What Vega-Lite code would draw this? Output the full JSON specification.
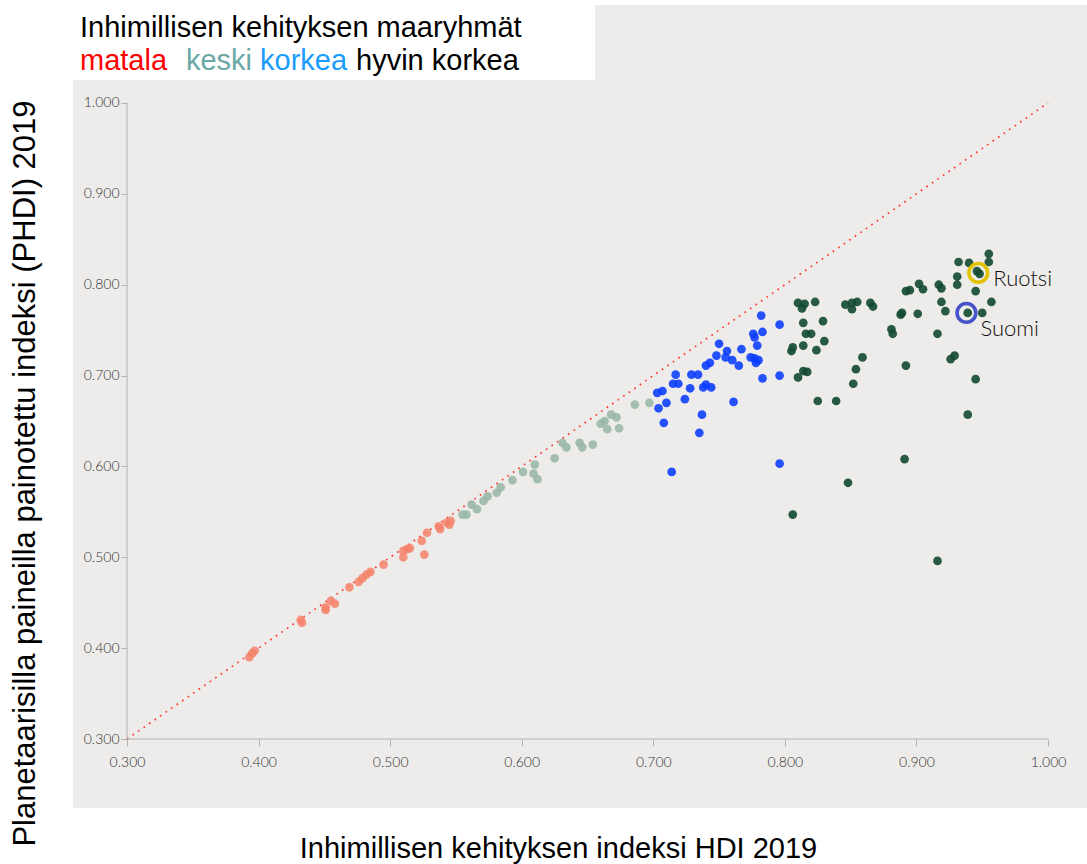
{
  "$schema": "https://vega.github.io/schema/vega-lite/v6.json",
  "width": 1014,
  "height": 803,
  "autosize": {"type": "none"},
  "padding": {"left": 73, "top": 5, "right": 0, "bottom": 56},
  "background": "white",
  "config": {"view": {"fill": "#eeecea", "stroke": null}},
  "datasets": {
    "maat": [
      {"hdi": 0.393, "phdi": 0.390, "ryhma": "matala"},
      {"hdi": 0.395, "phdi": 0.394, "ryhma": "matala"},
      {"hdi": 0.397, "phdi": 0.397, "ryhma": "matala"},
      {"hdi": 0.432, "phdi": 0.431, "ryhma": "matala"},
      {"hdi": 0.433, "phdi": 0.428, "ryhma": "matala"},
      {"hdi": 0.451, "phdi": 0.442, "ryhma": "matala"},
      {"hdi": 0.451, "phdi": 0.445, "ryhma": "matala"},
      {"hdi": 0.455, "phdi": 0.452, "ryhma": "matala"},
      {"hdi": 0.458, "phdi": 0.449, "ryhma": "matala"},
      {"hdi": 0.469, "phdi": 0.467, "ryhma": "matala"},
      {"hdi": 0.476, "phdi": 0.473, "ryhma": "matala"},
      {"hdi": 0.479, "phdi": 0.477, "ryhma": "matala"},
      {"hdi": 0.482, "phdi": 0.481, "ryhma": "matala"},
      {"hdi": 0.485, "phdi": 0.484, "ryhma": "matala"},
      {"hdi": 0.495, "phdi": 0.492, "ryhma": "matala"},
      {"hdi": 0.510, "phdi": 0.500, "ryhma": "matala"},
      {"hdi": 0.510, "phdi": 0.507, "ryhma": "matala"},
      {"hdi": 0.513, "phdi": 0.509, "ryhma": "matala"},
      {"hdi": 0.515, "phdi": 0.510, "ryhma": "matala"},
      {"hdi": 0.526, "phdi": 0.503, "ryhma": "matala"},
      {"hdi": 0.524, "phdi": 0.518, "ryhma": "matala"},
      {"hdi": 0.528, "phdi": 0.527, "ryhma": "matala"},
      {"hdi": 0.537, "phdi": 0.534, "ryhma": "matala"},
      {"hdi": 0.538, "phdi": 0.531, "ryhma": "matala"},
      {"hdi": 0.543, "phdi": 0.538, "ryhma": "matala"},
      {"hdi": 0.545, "phdi": 0.536, "ryhma": "matala"},
      {"hdi": 0.546, "phdi": 0.540, "ryhma": "matala"},
      {"hdi": 0.555, "phdi": 0.547, "ryhma": "keski"},
      {"hdi": 0.558, "phdi": 0.547, "ryhma": "keski"},
      {"hdi": 0.562, "phdi": 0.558, "ryhma": "keski"},
      {"hdi": 0.566, "phdi": 0.553, "ryhma": "keski"},
      {"hdi": 0.571, "phdi": 0.562, "ryhma": "keski"},
      {"hdi": 0.574, "phdi": 0.567, "ryhma": "keski"},
      {"hdi": 0.581, "phdi": 0.571, "ryhma": "keski"},
      {"hdi": 0.584, "phdi": 0.577, "ryhma": "keski"},
      {"hdi": 0.593, "phdi": 0.585, "ryhma": "keski"},
      {"hdi": 0.601, "phdi": 0.594, "ryhma": "keski"},
      {"hdi": 0.609, "phdi": 0.592, "ryhma": "keski"},
      {"hdi": 0.610, "phdi": 0.602, "ryhma": "keski"},
      {"hdi": 0.612, "phdi": 0.586, "ryhma": "keski"},
      {"hdi": 0.625, "phdi": 0.609, "ryhma": "keski"},
      {"hdi": 0.631, "phdi": 0.626, "ryhma": "keski"},
      {"hdi": 0.634, "phdi": 0.621, "ryhma": "keski"},
      {"hdi": 0.644, "phdi": 0.626, "ryhma": "keski"},
      {"hdi": 0.646, "phdi": 0.621, "ryhma": "keski"},
      {"hdi": 0.654, "phdi": 0.624, "ryhma": "keski"},
      {"hdi": 0.660, "phdi": 0.647, "ryhma": "keski"},
      {"hdi": 0.663, "phdi": 0.650, "ryhma": "keski"},
      {"hdi": 0.665, "phdi": 0.641, "ryhma": "keski"},
      {"hdi": 0.668, "phdi": 0.657, "ryhma": "keski"},
      {"hdi": 0.672, "phdi": 0.654, "ryhma": "keski"},
      {"hdi": 0.674, "phdi": 0.642, "ryhma": "keski"},
      {"hdi": 0.686, "phdi": 0.668, "ryhma": "keski"},
      {"hdi": 0.697, "phdi": 0.670, "ryhma": "keski"},
      {"hdi": 0.703, "phdi": 0.681, "ryhma": "korkea"},
      {"hdi": 0.707, "phdi": 0.683, "ryhma": "korkea"},
      {"hdi": 0.704, "phdi": 0.664, "ryhma": "korkea"},
      {"hdi": 0.710, "phdi": 0.670, "ryhma": "korkea"},
      {"hdi": 0.708, "phdi": 0.648, "ryhma": "korkea"},
      {"hdi": 0.714, "phdi": 0.594, "ryhma": "korkea"},
      {"hdi": 0.717, "phdi": 0.701, "ryhma": "korkea"},
      {"hdi": 0.715, "phdi": 0.691, "ryhma": "korkea"},
      {"hdi": 0.719, "phdi": 0.691, "ryhma": "korkea"},
      {"hdi": 0.724, "phdi": 0.674, "ryhma": "korkea"},
      {"hdi": 0.728, "phdi": 0.686, "ryhma": "korkea"},
      {"hdi": 0.729, "phdi": 0.701, "ryhma": "korkea"},
      {"hdi": 0.734, "phdi": 0.701, "ryhma": "korkea"},
      {"hdi": 0.737, "phdi": 0.657, "ryhma": "korkea"},
      {"hdi": 0.735, "phdi": 0.637, "ryhma": "korkea"},
      {"hdi": 0.738, "phdi": 0.687, "ryhma": "korkea"},
      {"hdi": 0.740, "phdi": 0.690, "ryhma": "korkea"},
      {"hdi": 0.744, "phdi": 0.687, "ryhma": "korkea"},
      {"hdi": 0.740, "phdi": 0.711, "ryhma": "korkea"},
      {"hdi": 0.743, "phdi": 0.714, "ryhma": "korkea"},
      {"hdi": 0.748, "phdi": 0.722, "ryhma": "korkea"},
      {"hdi": 0.750, "phdi": 0.735, "ryhma": "korkea"},
      {"hdi": 0.756, "phdi": 0.727, "ryhma": "korkea"},
      {"hdi": 0.755, "phdi": 0.720, "ryhma": "korkea"},
      {"hdi": 0.760, "phdi": 0.717, "ryhma": "korkea"},
      {"hdi": 0.761, "phdi": 0.671, "ryhma": "korkea"},
      {"hdi": 0.765, "phdi": 0.711, "ryhma": "korkea"},
      {"hdi": 0.767, "phdi": 0.729, "ryhma": "korkea"},
      {"hdi": 0.776, "phdi": 0.746, "ryhma": "korkea"},
      {"hdi": 0.777, "phdi": 0.742, "ryhma": "korkea"},
      {"hdi": 0.774, "phdi": 0.720, "ryhma": "korkea"},
      {"hdi": 0.777, "phdi": 0.719, "ryhma": "korkea"},
      {"hdi": 0.780, "phdi": 0.717, "ryhma": "korkea"},
      {"hdi": 0.778, "phdi": 0.714, "ryhma": "korkea"},
      {"hdi": 0.779, "phdi": 0.733, "ryhma": "korkea"},
      {"hdi": 0.783, "phdi": 0.748, "ryhma": "korkea"},
      {"hdi": 0.783, "phdi": 0.697, "ryhma": "korkea"},
      {"hdi": 0.782, "phdi": 0.766, "ryhma": "korkea"},
      {"hdi": 0.796, "phdi": 0.756, "ryhma": "korkea"},
      {"hdi": 0.796, "phdi": 0.700, "ryhma": "korkea"},
      {"hdi": 0.796, "phdi": 0.603, "ryhma": "korkea"},
      {"hdi": 0.810, "phdi": 0.780, "ryhma": "hyvin korkea"},
      {"hdi": 0.813, "phdi": 0.774, "ryhma": "hyvin korkea"},
      {"hdi": 0.815, "phdi": 0.779, "ryhma": "hyvin korkea"},
      {"hdi": 0.823, "phdi": 0.781, "ryhma": "hyvin korkea"},
      {"hdi": 0.814, "phdi": 0.758, "ryhma": "hyvin korkea"},
      {"hdi": 0.829, "phdi": 0.760, "ryhma": "hyvin korkea"},
      {"hdi": 0.816, "phdi": 0.746, "ryhma": "hyvin korkea"},
      {"hdi": 0.820, "phdi": 0.746, "ryhma": "hyvin korkea"},
      {"hdi": 0.830, "phdi": 0.738, "ryhma": "hyvin korkea"},
      {"hdi": 0.814, "phdi": 0.733, "ryhma": "hyvin korkea"},
      {"hdi": 0.806, "phdi": 0.731, "ryhma": "hyvin korkea"},
      {"hdi": 0.805, "phdi": 0.727, "ryhma": "hyvin korkea"},
      {"hdi": 0.824, "phdi": 0.728, "ryhma": "hyvin korkea"},
      {"hdi": 0.859, "phdi": 0.720, "ryhma": "hyvin korkea"},
      {"hdi": 0.854, "phdi": 0.707, "ryhma": "hyvin korkea"},
      {"hdi": 0.814, "phdi": 0.705, "ryhma": "hyvin korkea"},
      {"hdi": 0.810, "phdi": 0.698, "ryhma": "hyvin korkea"},
      {"hdi": 0.817, "phdi": 0.704, "ryhma": "hyvin korkea"},
      {"hdi": 0.852, "phdi": 0.691, "ryhma": "hyvin korkea"},
      {"hdi": 0.825, "phdi": 0.672, "ryhma": "hyvin korkea"},
      {"hdi": 0.839, "phdi": 0.672, "ryhma": "hyvin korkea"},
      {"hdi": 0.846, "phdi": 0.778, "ryhma": "hyvin korkea"},
      {"hdi": 0.851, "phdi": 0.780, "ryhma": "hyvin korkea"},
      {"hdi": 0.855, "phdi": 0.781, "ryhma": "hyvin korkea"},
      {"hdi": 0.851, "phdi": 0.773, "ryhma": "hyvin korkea"},
      {"hdi": 0.865, "phdi": 0.780, "ryhma": "hyvin korkea"},
      {"hdi": 0.867, "phdi": 0.776, "ryhma": "hyvin korkea"},
      {"hdi": 0.888, "phdi": 0.767, "ryhma": "hyvin korkea"},
      {"hdi": 0.889, "phdi": 0.769, "ryhma": "hyvin korkea"},
      {"hdi": 0.901, "phdi": 0.768, "ryhma": "hyvin korkea"},
      {"hdi": 0.881, "phdi": 0.751, "ryhma": "hyvin korkea"},
      {"hdi": 0.882, "phdi": 0.746, "ryhma": "hyvin korkea"},
      {"hdi": 0.892, "phdi": 0.793, "ryhma": "hyvin korkea"},
      {"hdi": 0.895, "phdi": 0.794, "ryhma": "hyvin korkea"},
      {"hdi": 0.902, "phdi": 0.801, "ryhma": "hyvin korkea"},
      {"hdi": 0.905, "phdi": 0.795, "ryhma": "hyvin korkea"},
      {"hdi": 0.917, "phdi": 0.800, "ryhma": "hyvin korkea"},
      {"hdi": 0.919, "phdi": 0.796, "ryhma": "hyvin korkea"},
      {"hdi": 0.919, "phdi": 0.781, "ryhma": "hyvin korkea"},
      {"hdi": 0.922, "phdi": 0.771, "ryhma": "hyvin korkea"},
      {"hdi": 0.916, "phdi": 0.746, "ryhma": "hyvin korkea"},
      {"hdi": 0.892, "phdi": 0.711, "ryhma": "hyvin korkea"},
      {"hdi": 0.926, "phdi": 0.718, "ryhma": "hyvin korkea"},
      {"hdi": 0.929, "phdi": 0.722, "ryhma": "hyvin korkea"},
      {"hdi": 0.932, "phdi": 0.825, "ryhma": "hyvin korkea"},
      {"hdi": 0.931, "phdi": 0.809, "ryhma": "hyvin korkea"},
      {"hdi": 0.931, "phdi": 0.800, "ryhma": "hyvin korkea"},
      {"hdi": 0.940, "phdi": 0.824, "ryhma": "hyvin korkea"},
      {"hdi": 0.945, "phdi": 0.793, "ryhma": "hyvin korkea"},
      {"hdi": 0.939, "phdi": 0.769, "ryhma": "hyvin korkea"},
      {"hdi": 0.946, "phdi": 0.815, "ryhma": "hyvin korkea"},
      {"hdi": 0.948, "phdi": 0.812, "ryhma": "hyvin korkea"},
      {"hdi": 0.955, "phdi": 0.834, "ryhma": "hyvin korkea"},
      {"hdi": 0.955, "phdi": 0.825, "ryhma": "hyvin korkea"},
      {"hdi": 0.957, "phdi": 0.781, "ryhma": "hyvin korkea"},
      {"hdi": 0.950, "phdi": 0.769, "ryhma": "hyvin korkea"},
      {"hdi": 0.945, "phdi": 0.696, "ryhma": "hyvin korkea"},
      {"hdi": 0.939, "phdi": 0.657, "ryhma": "hyvin korkea"},
      {"hdi": 0.891, "phdi": 0.608, "ryhma": "hyvin korkea"},
      {"hdi": 0.848, "phdi": 0.582, "ryhma": "hyvin korkea"},
      {"hdi": 0.806, "phdi": 0.547, "ryhma": "hyvin korkea"},
      {"hdi": 0.916, "phdi": 0.496, "ryhma": "hyvin korkea"}
    ],
    "korostus": [
      {"hdi": 0.947, "phdi": 0.813, "maa": "Ruotsi"},
      {"hdi": 0.938, "phdi": 0.769, "maa": "Suomi"}
    ],
    "tasa": [
      {"hdi": 0.3, "phdi": 0.3},
      {"hdi": 1.0, "phdi": 1.0}
    ]
  },
  "layer": [
    {
      "data": {"values": [{"osa": "otsikkoalue"}]},
      "mark": {"type": "rect", "fill": "white"},
      "encoding": {
        "x": {"datum": 0.25896},
        "x2": {"datum": 0.6557},
        "y": {"datum": 1.10786},
        "y2": {"datum": 1.02531}
      }
    },
    {
      "data": {"name": "tasa"},
      "mark": {"type": "line", "color": "#ff3a2f", "strokeWidth": 1.7, "strokeDash": [1.7, 5]},
      "encoding": {
        "x": {"field": "hdi", "type": "quantitative"},
        "y": {"field": "phdi", "type": "quantitative"}
      }
    },
    {
      "data": {"values": [{"akseli": "y"}]},
      "mark": {"type": "rule", "color": "#b3b3b3", "strokeWidth": 1},
      "encoding": {
        "x": {"datum": 0.3},
        "y": {"datum": 0.3},
        "y2": {"datum": 1.0}
      }
    },
    {
      "data": {"values": [{"akseli": "x"}]},
      "mark": {"type": "rule", "color": "#b3b3b3", "strokeWidth": 1},
      "encoding": {
        "y": {"datum": 0.3},
        "x": {"datum": 0.3},
        "x2": {"datum": 1.0}
      }
    },
    {
      "data": {"name": "maat"},
      "mark": {"type": "circle", "size": 76},
      "encoding": {
        "x": {
          "field": "hdi", "type": "quantitative",
          "scale": {"domain": [0.25896, 1.02964], "nice": false, "zero": false},
          "axis": {
            "orient": "bottom", "offset": -69, "domain": false, "grid": false,
            "values": [0.3, 0.4, 0.5, 0.6, 0.7, 0.8, 0.9, 1.0], "format": ".3f",
            "tickSize": 7, "tickColor": "#b3b3b3", "labelPadding": 9,
            "labelFont": "Lato", "labelFontSize": 14, "labelFontWeight": 300, "labelColor": "#333333",
            "title": "Inhimillisen kehityksen indeksi HDI 2019",
            "titleFont": "Liberation Sans", "titleFontSize": 29, "titleFontWeight": "normal",
            "titleColor": "#000000", "titleX": 485, "titleY": 109,
            "titleAlign": "center", "titleBaseline": "middle"
          }
        },
        "y": {
          "field": "phdi", "type": "quantitative",
          "scale": {"domain": [0.22406, 1.10786], "nice": false, "zero": false},
          "axis": {
            "orient": "left", "offset": -54, "domain": false, "grid": false,
            "values": [0.3, 0.4, 0.5, 0.6, 0.7, 0.8, 0.9, 1.0], "format": ".3f",
            "tickSize": 6, "tickColor": "#b3b3b3", "labelPadding": 2,
            "labelFont": "Lato", "labelFontSize": 14, "labelFontWeight": 300, "labelColor": "#333333",
            "title": "Planetaarisilla paineilla painotettu indeksi (PHDI) 2019",
            "titleFont": "Liberation Sans", "titleFontSize": 31, "titleFontWeight": "normal",
            "titleColor": "#000000", "titleX": -102, "titleY": 468,
            "titleAngle": -90, "titleAlign": "center", "titleBaseline": "middle"
          }
        },
        "color": {
          "field": "ryhma", "type": "nominal", "legend": null,
          "scale": {
            "domain": ["matala", "keski", "korkea", "hyvin korkea"],
            "range": ["#f5826b", "#97b6a5", "#0a3cff", "#124a31"]
          }
        },
        "opacity": {
          "field": "ryhma", "type": "nominal", "legend": null,
          "scale": {
            "domain": ["matala", "keski", "korkea", "hyvin korkea"],
            "range": [0.85, 0.9, 1, 1]
          }
        }
      }
    },
    {
      "data": {"name": "korostus"},
      "mark": {"type": "point", "shape": "circle", "filled": false, "size": 350, "strokeWidth": 3.6, "opacity": 1},
      "encoding": {
        "x": {"field": "hdi", "type": "quantitative"},
        "y": {"field": "phdi", "type": "quantitative"},
        "stroke": {
          "field": "maa", "type": "nominal", "legend": null,
          "scale": {"domain": ["Ruotsi", "Suomi"], "range": ["#e2c300", "#4654c8"]}
        }
      }
    },
    {
      "data": {"name": "korostus"},
      "transform": [{"filter": "datum.maa === 'Ruotsi'"}],
      "mark": {"type": "text", "align": "left", "baseline": "middle", "dx": 15, "dy": 6, "font": "Lato", "fontSize": 22, "fontWeight": 300, "color": "#111111"},
      "encoding": {
        "x": {"field": "hdi", "type": "quantitative"},
        "y": {"field": "phdi", "type": "quantitative"},
        "text": {"field": "maa"}
      }
    },
    {
      "data": {"name": "korostus"},
      "transform": [{"filter": "datum.maa === 'Suomi'"}],
      "mark": {"type": "text", "align": "left", "baseline": "middle", "dx": 14, "dy": 16, "font": "Lato", "fontSize": 22, "fontWeight": 300, "color": "#111111"},
      "encoding": {
        "x": {"field": "hdi", "type": "quantitative"},
        "y": {"field": "phdi", "type": "quantitative"},
        "text": {"field": "maa"}
      }
    },
    {
      "data": {"values": [{"teksti": "Inhimillisen kehityksen maaryhmät"}]},
      "mark": {"type": "text", "align": "left", "baseline": "alphabetic", "font": "Liberation Sans", "fontSize": 29, "color": "#000000"},
      "encoding": {"x": {"datum": 0.26428}, "y": {"datum": 1.07262}, "text": {"field": "teksti"}}
    },
    {
      "data": {"values": [{"teksti": "matala"}]},
      "mark": {"type": "text", "align": "left", "baseline": "alphabetic", "font": "Liberation Sans", "fontSize": 29, "color": "#ff0000"},
      "encoding": {"x": {"datum": 0.26428}, "y": {"datum": 1.03629}, "text": {"field": "teksti"}}
    },
    {
      "data": {"values": [{"teksti": "keski"}]},
      "mark": {"type": "text", "align": "left", "baseline": "alphabetic", "font": "Liberation Sans", "fontSize": 29, "color": "#6aa8a6"},
      "encoding": {"x": {"datum": 0.34484}, "y": {"datum": 1.03629}, "text": {"field": "teksti"}}
    },
    {
      "data": {"values": [{"teksti": "korkea"}]},
      "mark": {"type": "text", "align": "left", "baseline": "alphabetic", "font": "Liberation Sans", "fontSize": 29, "color": "#1a9cff"},
      "encoding": {"x": {"datum": 0.40109}, "y": {"datum": 1.03629}, "text": {"field": "teksti"}}
    },
    {
      "data": {"values": [{"teksti": "hyvin korkea"}]},
      "mark": {"type": "text", "align": "left", "baseline": "alphabetic", "font": "Liberation Sans", "fontSize": 29, "color": "#000000"},
      "encoding": {"x": {"datum": 0.47405}, "y": {"datum": 1.03629}, "text": {"field": "teksti"}}
    }
  ]
}
